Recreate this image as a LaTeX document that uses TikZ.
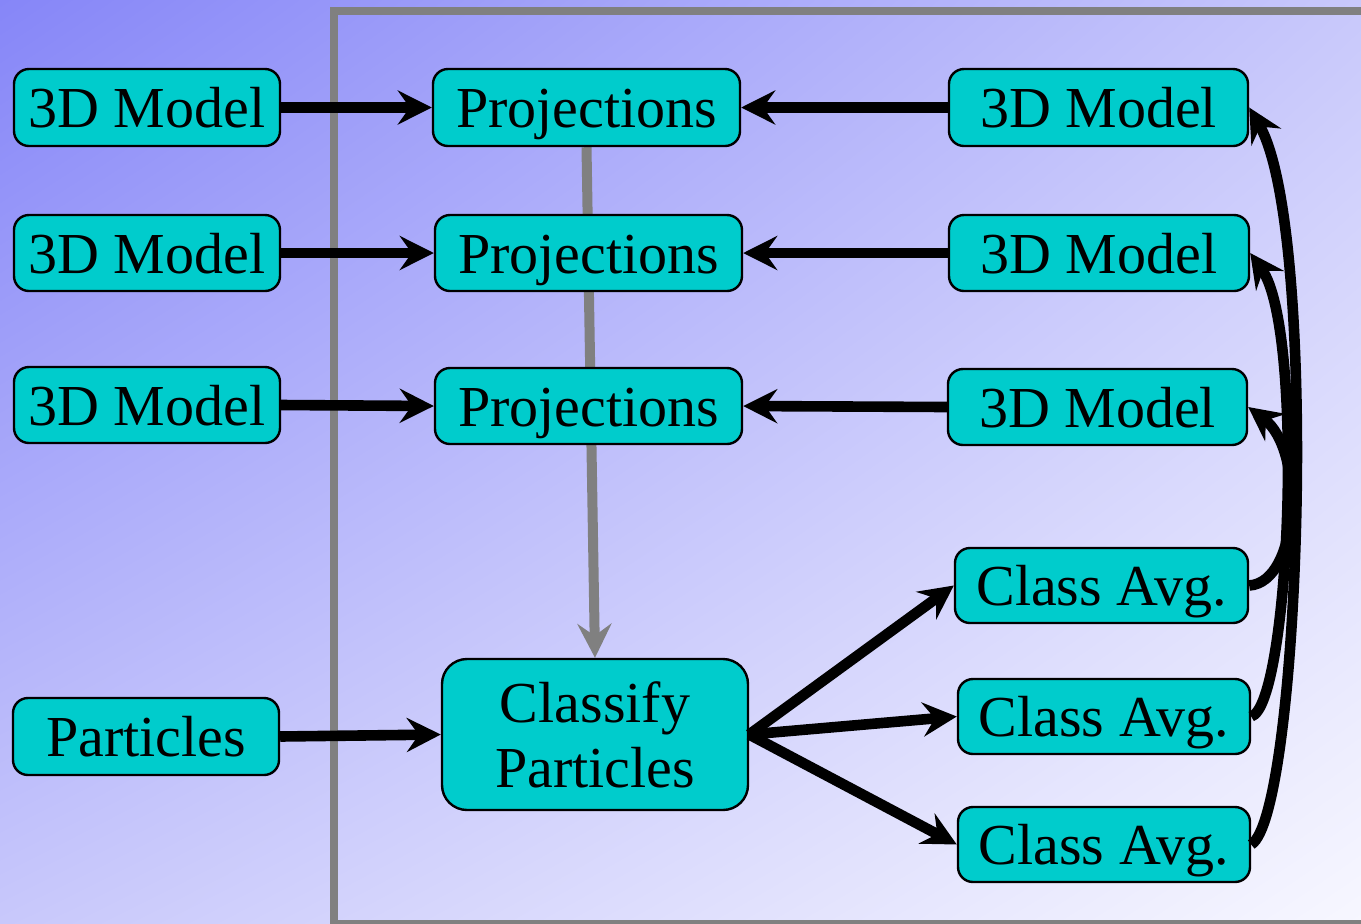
\documentclass[tikz,border=0pt]{standalone}
\usepackage{fontspec}
\setmainfont{Liberation Serif}
\newfontfamily\labelfont{Liberation Serif}
\usetikzlibrary{arrows.meta,shadings}
\definecolor{boxfill}{RGB}{0,204,204}
\definecolor{bgA}{RGB}{134,134,248}
\definecolor{bgM}{RGB}{200,200,251}
\definecolor{bgB}{RGB}{247,247,255}
\definecolor{framegray}{RGB}{128,128,128}
\pgfdeclarelayer{back}
\pgfsetlayers{back,main}
\begin{document}
\begin{tikzpicture}[x=0.5pt,y=-0.5pt,
  box/.style={draw=black, line width=1.2pt, fill=boxfill, rounded corners=7.5pt,
    inner sep=0pt, font=\labelfont\fontsize{29}{32.5}\selectfont, text height=20pt, text depth=0pt},
  bigbox/.style={draw=black, line width=1.2pt, fill=boxfill, rounded corners=12.5pt,
    inner sep=0pt, align=center, font=\labelfont\fontsize{29}{32.5}\selectfont},
  flow/.style={draw=black, line width=5.3pt, -{Stealth[length=17pt,width=17pt,inset=6pt]}},
  feed/.style={draw=framegray, line width=5pt, -{Stealth[length=17pt,width=17pt,inset=6pt]}},
]
\useasboundingbox (0,0) rectangle (1361,923);

% left column
\node[box, minimum width=133pt, minimum height=38.5pt] (L1) at (147,107.5) {3D Model};
\node[box, minimum width=133pt, minimum height=38pt] (L2) at (147,253) {3D Model};
\node[box, minimum width=133pt, minimum height=38pt] (L3) at (147,405) {3D Model};
\node[box, minimum width=133pt, minimum height=38.5pt] (PA) at (146,736.5) {Particles};

% projections
\node[box, minimum width=153.5pt, minimum height=38.5pt] (P1) at (586.5,107.5) {Projections};
\node[box, minimum width=153.5pt, minimum height=38pt] (P2) at (588.5,253) {Projections};
\node[box, minimum width=153.5pt, minimum height=38pt] (P3) at (588.5,406) {Projections};

% refined models
\node[box, minimum width=149.5pt, minimum height=38.5pt] (R1) at (1098.5,107.5) {3D Model};
\node[box, minimum width=150pt, minimum height=38pt] (R2) at (1099,253) {3D Model};
\node[box, minimum width=149.5pt, minimum height=38pt] (R3) at (1097.5,407) {3D Model};

% class averages
\node[box, minimum width=146.5pt, minimum height=37.5pt] (C1) at (1101.5,585.5) {Class Avg.};
\node[box, minimum width=146pt, minimum height=37.5pt] (C2) at (1104,716.5) {Class Avg.};
\node[box, minimum width=146pt, minimum height=37.5pt] (C3) at (1104,844.5) {Class Avg.};

% classification step
\node[bigbox, minimum width=153pt, minimum height=75.5pt] (CL) at (595,734.5) {Classify\\Particles};

\begin{pgfonlayer}{back}
  \shade[upper left=bgA, upper right=bgM, lower left=bgM, lower right=bgB]
    (0,0) rectangle (1361,923);
  \draw[framegray, line width=3.7pt] (1400,924) -- (334,924) -- (334,11) -- (1400,11);
  \draw[feed] (P1.south) -- (CL.north);
\end{pgfonlayer}

% inputs
\draw[flow] (L1.east) -- (P1.west);
\draw[flow] (L2.east) -- (P2.west);
\draw[flow] (L3.east) -- (P3.west);
\draw[flow] (PA.east) -- (CL.west);
\draw[flow] (R1.west) -- (P1.east);
\draw[flow] (R2.west) -- (P2.east);
\draw[flow] (R3.west) -- (P3.east);

% classification outputs
\draw[flow] (CL.east) -- (C1.west);
\draw[flow] (CL.east) -- (C2.west);
\draw[flow] (CL.east) -- (C3.west);

% reconstruction loops
\draw[flow] (C1.east) .. controls (1300,582) and (1305,450) .. (R3.east);
\draw[flow] (C2.east) .. controls (1290,705) and (1305,330) .. (R2.east);
\draw[flow] (C3.east) .. controls (1300,815) and (1320,230) .. (R1.east);
\end{tikzpicture}
\end{document}
